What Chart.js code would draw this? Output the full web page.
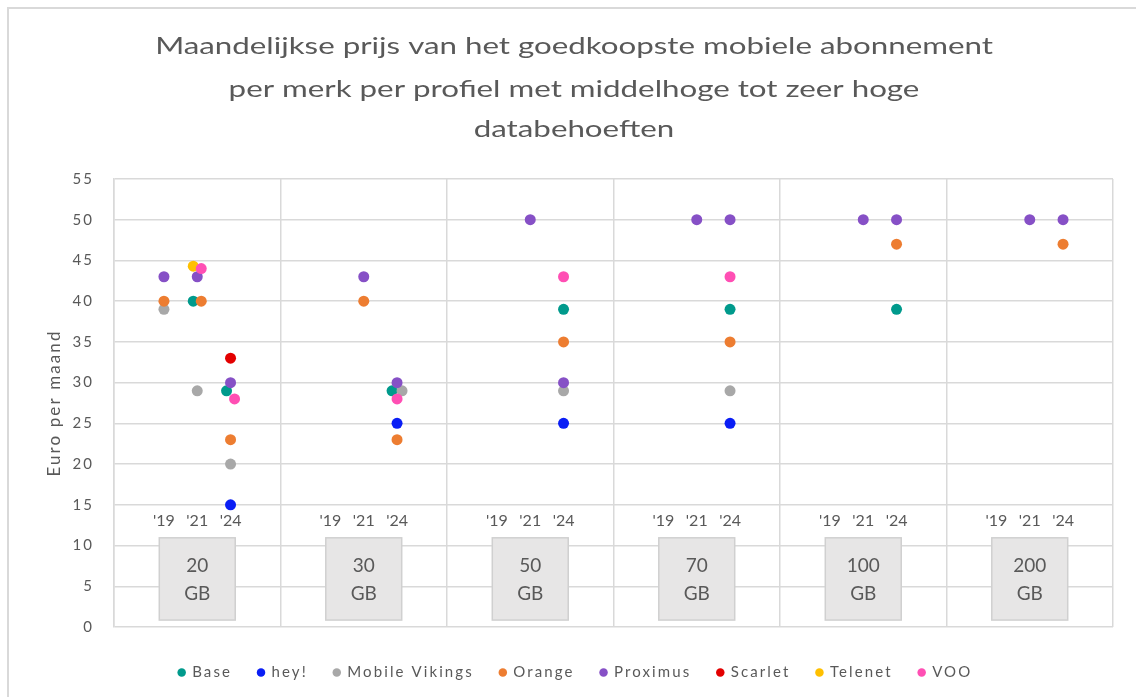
<!DOCTYPE html>
<html>
<head>
<meta charset="utf-8">
<script src="https://cdn.jsdelivr.net/npm/chart.js@4"></script>
<style>
  html, body { margin: 0; padding: 0; background: #fff; }
  #wrap { width: 1136px; height: 697px; position: relative; }
</style>
</head>
<body>
<div id="wrap"><canvas id="grafiek"></canvas></div>
<script>
// categorieën: databundel per profiel en jaar
const profielen = [['20', 'GB'], ['30', 'GB'], ['50', 'GB'], ['70', 'GB'], ['100', 'GB'], ['200', 'GB']];
const jaren = ["'19", "'21", "'24"];
const titel = ['Maandelijkse prijs van het goedkoopste mobiele abonnement',
               'per merk per profiel met middelhoge tot zeer hoge',
               'databehoeften'];

// prijs per merk, 3 jaren per profiel (null = geen abonnement)
const base          = [null, 40, 29,   null, null, 29,   null, null, 39,   null, null, 39,   null, null, 39,   null, null, null];
const hey           = [null, null, 15, null, null, 25,   null, null, 25,   null, null, 25,   null, null, null, null, null, null];
const mobileVikings = [39, 29, 20,     null, null, 29,   null, null, 29,   null, null, 29,   null, null, null, null, null, null];
const orange        = [40, 40, 23,     null, 40, 23,     null, null, 35,   null, null, 35,   null, null, 47,   null, null, 47];
const proximus      = [43, 43, 30,     null, 43, 30,     null, 50, 30,     null, 50, 50,     null, 50, 50,     null, 50, 50];
const scarlet       = [null, null, 33, null, null, null, null, null, null, null, null, null, null, null, null, null, null, null];
const telenet       = [null, 44.3, null, null, null, null, null, null, null, null, null, null, null, null, null, null, null, null];
const voo           = [null, 44, 28,   null, null, 28,   null, null, 43,   null, null, 43,   null, null, null, null, null, null];

const merken = ['Base', 'hey!', 'Mobile Vikings', 'Orange', 'Proximus', 'Scarlet', 'Telenet', 'VOO'];
const reeksen = [base, hey, mobileVikings, orange, proximus, scarlet, telenet, voo];
const kleuren = ['#009A8C', '#0A1EF5', '#A8A8A8', '#ED7D31', '#8650C6', '#E30000', '#FFC000', '#FF4FB4'];

// positie van de jaren binnen een profielvak, en kleine verschuiving bij overlap
const jaarPositie = [0.3, 0.5, 0.7];
const verschuiving = {
  'Base:1': -0.024, 'Telenet:1': -0.024, 'Orange:1': 0.024, 'VOO:1': 0.024,
  'Base:2': -0.024, 'VOO:2': 0.024,
  'Base:5': -0.03, 'Mobile Vikings:5': 0.03
};

const tekstKleur = '#595959';
const rasterKleur = '#D9D9D9';
const spatiering = '2.1px'; // de tekst in het origineel staat breed

const datasets = merken.map((merk, m) => ({
  label: merk,
  data: reeksen[m]
    .map((v, i) => v == null ? null : {
      x: Math.floor(i / 3) + jaarPositie[i % 3] + (verschuiving[merk + ':' + i] || 0),
      y: v
    })
    .filter(p => p !== null),
  backgroundColor: kleuren[m],
  borderWidth: 0,
  pointRadius: 5.5,
  pointHoverRadius: 6,
  order: merken.length - m // later merk bovenop
}));

// kader, titel, jaarlabels en grijze vakjes met het profiel
const annotaties = {
  id: 'annotaties',
  beforeUpdate(chart) {
    chart.ctx.letterSpacing = spatiering;
  },
  beforeDraw(chart) {
    const ctx = chart.ctx;
    ctx.letterSpacing = spatiering;
    ctx.save();
    ctx.strokeStyle = rasterKleur;
    ctx.lineWidth = 2;
    ctx.beginPath();
    ctx.moveTo(8, chart.height);
    ctx.lineTo(8, 8);
    ctx.lineTo(chart.width, 8);
    ctx.stroke();

    // titel, horizontaal uitgerekt zoals in het origineel
    ctx.letterSpacing = '0px';
    ctx.fillStyle = tekstKleur;
    ctx.font = '23px Lato';
    ctx.textAlign = 'center';
    ctx.textBaseline = 'middle';
    const regelY = [47, 89.5, 130];
    titel.forEach((regel, i) => {
      ctx.save();
      ctx.translate(574, regelY[i]);
      ctx.scale(1.36, 1);
      ctx.fillText(regel, 0, 0);
      ctx.restore();
    });
    ctx.restore();
  },
  beforeDatasetsDraw(chart) {
    const ctx = chart.ctx;
    const x = chart.scales.x, y = chart.scales.y;
    ctx.save();
    ctx.letterSpacing = '0px';
    ctx.textAlign = 'center';
    ctx.textBaseline = 'middle';
    profielen.forEach((p, g) => {
      // jaarlabels
      ctx.fillStyle = tekstKleur;
      ctx.font = '16px Lato';
      jaren.forEach((j, k) => {
        ctx.fillText(j, x.getPixelForValue(g + jaarPositie[k]), y.getPixelForValue(13));
      });
      // vakje
      const l = x.getPixelForValue(g + 0.272), r = x.getPixelForValue(g + 0.728);
      const t = y.getPixelForValue(10.95), b = y.getPixelForValue(0.85);
      ctx.fillStyle = '#E7E6E6';
      ctx.fillRect(l, t, r - l, b - t);
      ctx.strokeStyle = '#D0D0D0';
      ctx.lineWidth = 1.5;
      ctx.strokeRect(l, t, r - l, b - t);
      ctx.fillStyle = tekstKleur;
      ctx.font = '19px Lato';
      const cx = (l + r) / 2;
      ctx.fillText(p[0], cx, y.getPixelForValue(7.5));
      ctx.fillText(p[1], cx, y.getPixelForValue(4.05));
    });
    ctx.restore();
  }
};

new Chart(document.getElementById('grafiek'), {
  type: 'scatter',
  data: { datasets },
  plugins: [annotaties],
  options: {
    responsive: true,
    maintainAspectRatio: false,
    animation: false,
    layout: { padding: { left: 38, right: 23, top: 179, bottom: 7 } },
    scales: {
      x: {
        type: 'linear',
        min: 0,
        max: 6,
        ticks: { display: false, stepSize: 1 },
        grid: { color: rasterKleur, lineWidth: 1.5, drawTicks: false },
        border: { display: false },
        afterFit: s => { s.height = 12; }
      },
      y: {
        min: 0,
        max: 55,
        ticks: { stepSize: 5, color: tekstKleur, font: { family: 'Lato', size: 15 }, padding: 20 },
        grid: { color: rasterKleur, lineWidth: 1.5, drawTicks: false },
        border: { color: rasterKleur, width: 1.5 },
        title: { display: true, text: 'Euro per maand', color: tekstKleur, font: { family: 'Lato', size: 17 }, padding: { top: 6 } },
        afterFit: s => { s.width = 76; }
      }
    },
    plugins: {
      title: { display: false },
      legend: {
        position: 'bottom',
        labels: {
          sort: (a, b) => a.datasetIndex - b.datasetIndex,
          usePointStyle: true,
          pointStyle: 'circle',
          boxWidth: 6,
          boxHeight: 6,
          padding: 26,
          color: tekstKleur,
          font: { family: 'Lato', size: 15 }
        }
      },
      tooltip: { enabled: false }
    }
  }
});
</script>
</body>
</html>
